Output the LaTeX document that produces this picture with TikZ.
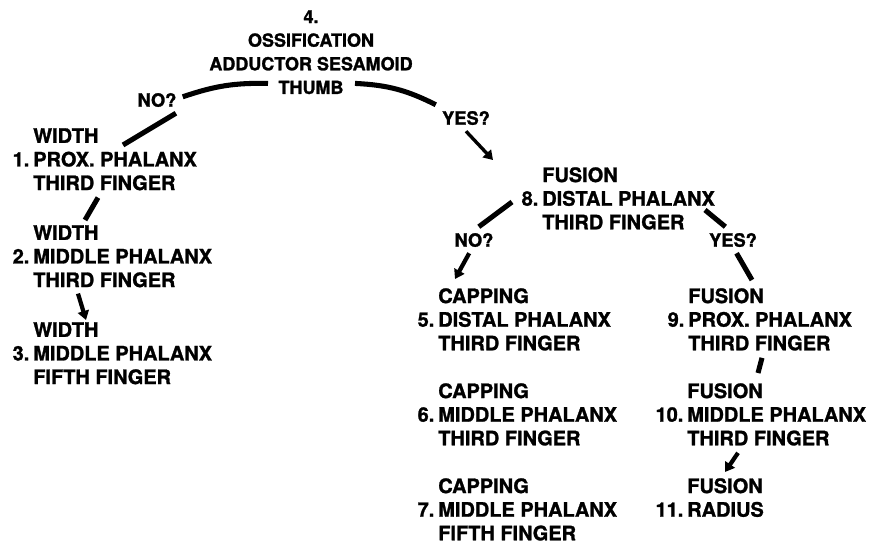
\documentclass[tikz,border=0pt]{standalone}
\usepackage{fontspec}
\setmainfont{TeX Gyre Heros}[BoldFeatures={FakeBold=1.3}]
\usetikzlibrary{arrows.meta}
\newcommand{\stagenum}[1]{\llap{#1\hspace{2.8pt}}}

\begin{document}
\begin{tikzpicture}[x=0.025cm, y=-0.025cm,
  stage/.style={align=left, anchor=north west, inner sep=0pt,
    font=\fontsize{14.2}{16.8}\selectfont\bfseries},
  answer/.style={inner sep=4.3pt, font=\fontsize{13}{16}\selectfont\bfseries},
  link/.style={line width=3.6pt},
  arrowlink/.style={line width=3pt, -{Triangle[length=6.5pt,width=8pt]}}]
\useasboundingbox (0,0) rectangle (874,545);
\node[stage, anchor=north, align=center, font=\fontsize{12.8}{16.8}\selectfont\bfseries]
  (n4) at (311,10) {4.\\OSSIFICATION\\ADDUCTOR SESAMOID\\THUMB};
\node[stage] (n1) at (33,128) {WIDTH\\\stagenum{1.}PROX. PHALANX\\THIRD FINGER};
\node[stage] (n2) at (33,225) {WIDTH\\\stagenum{2.}MIDDLE PHALANX\\THIRD FINGER};
\node[stage] (n3) at (33,322) {WIDTH\\\stagenum{3.}MIDDLE PHALANX\\FIFTH FINGER};
\node[stage] (n8) at (542,167) {FUSION\\\stagenum{8.}DISTAL PHALANX\\THIRD FINGER};
\node[stage] (n5) at (438,288) {CAPPING\\\stagenum{5.}DISTAL PHALANX\\THIRD FINGER};
\node[stage] (n6) at (438,383) {CAPPING\\\stagenum{6.}MIDDLE PHALANX\\THIRD FINGER};
\node[stage] (n7) at (438,478) {CAPPING\\\stagenum{7.}MIDDLE PHALANX\\FIFTH FINGER};
\node[stage] (n9) at (688,288) {FUSION\\\stagenum{9.}PROX. PHALANX\\THIRD FINGER};
\node[stage] (n10) at (687,383) {FUSION\\\stagenum{10.}MIDDLE PHALANX\\THIRD FINGER};
\node[stage] (n11) at (687,478) {FUSION\\\stagenum{11.}RADIUS};
\node[answer] (no1) at (157,100) {NO?};
\node[answer] (yes1) at (466,118) {YES?};
\node[answer] (no2) at (474,240) {NO?};
\node[answer] (yes2) at (733,240) {YES?};
% left branch
\draw[link] ([shift={(-43,-11)}]n4.south) to[bend right=10] (no1.7);
\draw[link] (no1.-35) -- ([shift={(90,17)}]n1.north west);
\draw[link] ([shift={(65,7)}]n1.south west) -- ([shift={(52,-5)}]n2.north west);
\draw[arrowlink] ([shift={(45,6)}]n2.south west) -- ([shift={(53,-2)}]n3.north west);
% right branch
\draw[link] ([shift={(44,-11)}]n4.south) to[bend left=12] (yes1.north west);
\draw[arrowlink, line width=2.4pt] (yes1.south) -- ([shift={(-49,-7)}]n8.north west);
\draw[link] ([shift={(-30,35)}]n8.north west) -- (no2.70);
\draw[arrowlink] (no2.-110) -- ([shift={(17,-9)}]n5.north west);
\draw[link] ([shift={(163,43)}]n8.north west) -- (yes2.120);
\draw[link] (yes2.-75) -- ([shift={(64,-8)}]n9.north west);
\draw[link] ([shift={(74,7)}]n9.south west) -- ([shift={(71,-10)}]n10.north west);
\draw[arrowlink] ([shift={(51,7)}]n10.south west) -- ([shift={(38,-6)}]n11.north west);
\end{tikzpicture}
\end{document}
